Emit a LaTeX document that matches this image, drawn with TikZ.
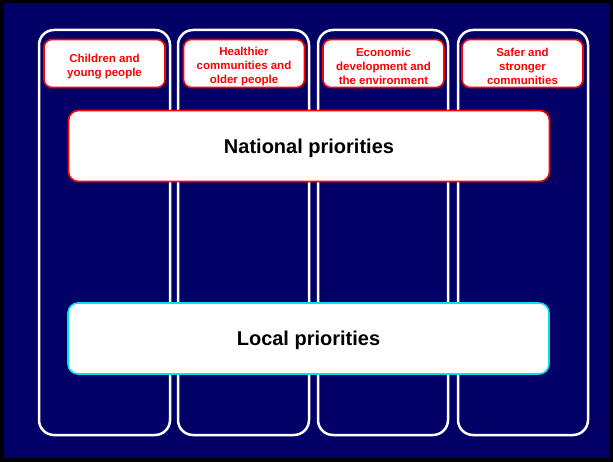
\documentclass[tikz,border=0pt]{standalone}
\usepackage{fontspec}
\setmainfont{Liberation Sans}
\usepackage{xcolor}
\definecolor{dNavy}{RGB}{0,0,102}
\definecolor{lRed}{RGB}{255,0,0}
\definecolor{lCyan}{RGB}{0,225,235}
\newcommand{\headstrut}{\rule{0pt}{13.5pt}}

\begin{document}
\begin{tikzpicture}[x=1pt, y=-1pt,
    column/.style={draw=white, line width=2.5pt, rounded corners=15pt},
    head/.style={draw=lRed, fill=white, line width=1.6pt, rounded corners=8pt,
      minimum width=121pt, minimum height=48pt, inner sep=0pt, align=center,
      text=lRed, font=\fontsize{11.5}{14}\selectfont\bfseries},
    prio/.style={fill=white, line width=1.6pt, rounded corners=10pt,
      minimum width=481pt, minimum height=71pt, inner sep=0pt,
      text height=14.5pt, text depth=0pt,
      font=\fontsize{20}{24}\selectfont\bfseries}]
        \useasboundingbox (0,0) rectangle (613,462);
        \draw [fill=black, draw=none] (0,0) rectangle (613,462);
        \draw [fill=dNavy, draw=none] (4,3) rectangle (609,458);
        % the four columns
        \draw [column] (39,30) rectangle (170,435);
        \draw [column] (178,30) rectangle (309,435);
        \draw [column] (318,30) rectangle (448,435);
        \draw [column] (458,30) rectangle (588,435);
        % column headings
        \node [head] (children) at (104.5,63.5) {\headstrut Children and\\young people};
        \node [head] (health) at (244,63.5) {\headstrut Healthier\\communities and\\older people};
        \node [head] (economy) at (383.5,63.5) {\headstrut Economic\\development and\\the environment};
        \node [head] (safer) at (522.5,63.5) {\headstrut Safer and\\stronger\\communities};
        % priorities
        \node [prio, draw=lRed] (national) at (309,146) {National priorities};
        \node [prio, draw=lCyan] (local) at (308.5,338.5) {Local priorities};
      \end{tikzpicture}
\end{document}
